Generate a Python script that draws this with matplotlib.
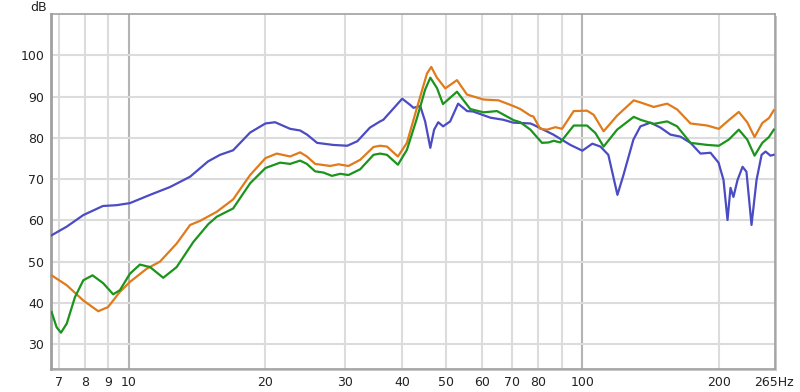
import matplotlib.pyplot as plt
from matplotlib.patches import Rectangle
from matplotlib.ticker import FixedLocator, NullLocator

# frequency response readings (Hz, dB)
blue_hz = [6.75, 7.29, 7.93, 8.76, 9.39, 10.05, 11.13, 12.32, 13.64, 14.94, 15.88, 16.97,
           18.5, 20.0, 21.0, 22.67, 23.85, 24.7, 26.0, 28.2, 30.3, 31.9, 34.0, 35.8, 36.4,
           40.05, 41.7, 42.4, 43.9, 45.0, 46.2, 47.1, 48.1, 49.3, 51.1, 53.2, 55.7, 57.4,
           62.7, 66.9, 70.4, 76.8, 77.95, 86.3, 94.1, 100.0, 105.2, 109.6, 114.1, 119.5,
           123.2, 129.6, 134.3, 141.3, 148.7, 156.4, 164.6, 173.2, 182.2, 191.7, 199.7,
           204.8, 209.0, 212.2, 215.4, 219.9, 225.6, 230.1, 236.1, 242.2, 248.5, 253.5,
           260.0, 264.0]
blue_db = [56.4, 58.5, 61.3, 63.5, 63.7, 64.2, 66.2, 68.1, 70.6, 74.3, 75.9, 77.0,
           81.3, 83.5, 83.8, 82.2, 81.8, 80.8, 78.8, 78.3, 78.1, 79.2, 82.5, 84.0, 84.4,
           89.5, 88.0, 87.3, 87.7, 84.0, 77.6, 82.0, 83.8, 82.8, 84.0, 88.3, 86.5, 86.4,
           84.9, 84.4, 83.7, 83.5, 83.2, 80.8, 78.3, 76.9, 78.6, 77.9, 75.9, 66.2,
           71.0, 79.6, 82.8, 83.7, 82.5, 80.8, 80.3, 78.8, 76.2, 76.4, 74.0,
           69.8, 60.1, 67.9, 65.7, 69.8, 73.0, 71.8, 58.9, 69.8, 75.9, 76.7,
           75.7, 75.9]

orange_hz = [6.75, 7.29, 7.93, 8.556, 8.99, 9.55, 10.05, 10.94, 11.7, 12.74, 13.64, 14.35,
             15.62, 16.97, 18.5, 20.0, 21.18, 22.67, 23.85, 24.68, 25.74, 27.78, 28.97,
             30.49, 32.36, 34.62, 35.8, 37.07, 39.19, 41.02, 43.17, 45.42, 46.42, 47.78,
             49.85, 52.9, 55.66, 60.55, 65.35, 70.53, 72.97, 76.8, 77.95, 80.76, 83.6,
             87.2, 90.2, 95.7, 102.4, 105.9, 111.4, 119.3, 129.8, 134.3, 143.7, 153.8,
             161.8, 173.2, 188.5, 200.0, 210.4, 221.3, 231.0, 239.8, 249.4, 257.9, 264.4]
orange_db = [46.7, 44.3, 40.6, 38.0, 39.0, 42.7, 45.1, 48.3, 50.0, 54.4, 58.9, 59.9,
             62.1, 65.1, 71.0, 75.1, 76.2, 75.5, 76.5, 75.5, 73.7, 73.2, 73.6,
             73.2, 74.7, 77.8, 78.1, 77.9, 75.5, 78.8, 87.3, 95.6, 97.2, 94.6,
             92.0, 94.0, 90.5, 89.3, 89.1, 87.7, 87.0, 85.4, 85.2, 82.2, 82.0,
             82.6, 82.2, 86.5, 86.6, 85.6, 81.6, 85.4, 89.1, 88.6, 87.5, 88.3,
             86.9, 83.5, 83.0, 82.2, 84.3, 86.3, 83.8, 80.2, 83.6, 84.8, 86.7]

green_hz = [6.75, 6.925, 7.08, 7.29, 7.6, 7.93, 8.31, 8.77, 9.23, 9.55, 10.05, 10.57,
            11.13, 11.9, 12.74, 13.87, 14.96, 15.62, 16.97, 18.5, 20.0, 21.54, 22.67,
            23.85, 24.68, 25.74, 26.85, 28.03, 29.24, 30.49, 32.36, 34.62, 35.8, 37.07,
            39.19, 41.02, 43.17, 45.0, 46.2, 47.78, 49.27, 52.9, 56.58, 60.55, 64.82,
            70.53, 72.97, 76.8, 81.47, 84.3, 86.44, 89.4, 95.7, 102.4, 106.8, 111.4,
            119.3, 129.8, 134.3, 143.7, 153.8, 161.8, 173.2, 188.5, 200.0, 210.4, 221.3,
            231.0, 239.8, 249.4, 257.9, 264.4]
green_db = [37.8, 34.1, 32.8, 35.0, 41.4, 45.5, 46.7, 44.8, 42.1, 43.1, 47.1, 49.3,
            48.7, 46.1, 48.7, 54.8, 59.1, 60.9, 62.9, 69.0, 72.7, 74.0, 73.7,
            74.5, 73.7, 71.9, 71.6, 70.8, 71.3, 71.0, 72.4, 75.9, 76.2, 75.9,
            73.5, 77.1, 84.8, 91.7, 94.6, 92.1, 88.2, 91.2, 87.0, 86.2, 86.5,
            84.3, 83.8, 82.0, 78.8, 78.9, 79.3, 78.9, 83.0, 83.0, 81.2, 77.9,
            82.0, 85.1, 84.4, 83.4, 84.0, 82.8, 78.8, 78.3, 78.1, 79.6, 82.0,
            79.6, 75.7, 78.8, 80.2, 82.0]

x_ticks = [7, 8, 9, 10, 20, 30, 40, 50, 60, 70, 80, 100, 200, 265]
x_labels = ["7", "8", "9", "10", "20", "30", "40", "50", "60", "70", "80", "100", "200", "265Hz"]
x_grid = [7, 8, 9, 20, 30, 40, 50, 60, 70, 80, 90, 200]
x_major = [10, 100]
y_ticks = [30, 40, 50, 60, 70, 80, 90, 100]

fig = plt.figure(figsize=(8, 3.92), dpi=100)
ax = fig.add_axes([0.06375, 0.0587, 0.905, 0.9053])
ax.set_zorder(2)

# drop shadow behind the plot frame
fig.patches.append(Rectangle((0.06375 + 0.003, 0.0587 - 0.006), 0.905, 0.9053,
                             transform=fig.transFigure, facecolor="#c8c8c8",
                             edgecolor="none", zorder=-1))

ax.set_xscale("log")
ax.set_xlim(6.73, 266)
ax.set_ylim(24, 110)
ax.set_facecolor("white")

for f in x_grid:
    ax.axvline(f, color="#dcdcdc", lw=1.5, zorder=1)
for f in x_major:
    ax.axvline(f, color="#b4b4b4", lw=1.5, zorder=1)
for v in y_ticks:
    ax.axhline(v, color="#dcdcdc", lw=1.5, zorder=1)

ax.plot(blue_hz, blue_db, color="#4b4bc4", lw=1.6, zorder=3)
ax.plot(orange_hz, orange_db, color="#e07b1c", lw=1.6, zorder=4)
ax.plot(green_hz, green_db, color="#1c941c", lw=1.6, zorder=5)

ax.xaxis.set_major_locator(FixedLocator(x_ticks))
ax.xaxis.set_minor_locator(NullLocator())
ax.set_xticklabels(x_labels)
ax.set_yticks(y_ticks)
ax.set_yticklabels([str(v) for v in y_ticks])
ax.tick_params(length=0, labelsize=9, pad=5, colors="#222222")

for s in ax.spines.values():
    s.set_color("#a0a0a0")
    s.set_linewidth(1.2)
ax.spines["left"].set_linewidth(2.0)

fig.text(0.058, 0.982, "dB", ha="right", va="center", fontsize=9, color="#222222")

fig.savefig("out.png", dpi=100)
